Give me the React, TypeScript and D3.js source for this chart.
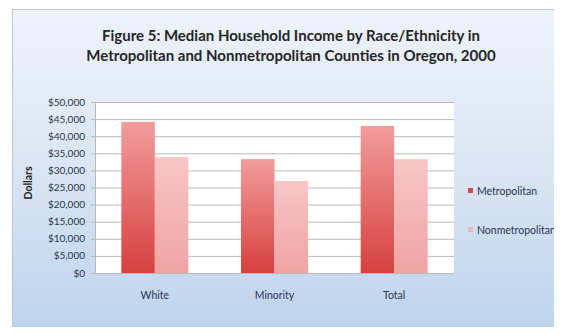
import React from "react";
import * as d3 from "d3";

const categories = ["White", "Minority", "Total"];
const seriesNames = ["Metropolitan", "Nonmetropolitan"];
const metropolitan = [44200, 33300, 43000];
const nonmetropolitan = [33900, 26900, 33300];
const yTicks = [0, 5000, 10000, 15000, 20000, 25000, 30000, 35000, 40000, 45000, 50000];
const titleLines = [
  "Figure 5: Median Household Income by Race/Ethnicity in",
  "Metropolitan and Nonmetropolitan Counties in Oregon, 2000",
];

const W = 562;
const H = 335;
const FONT = "Lato, 'Open Sans', sans-serif";

export default function App() {
  const plot = { left: 95, right: 454, top: 102, bottom: 273 };
  const x = d3.scaleBand<string>().domain(categories).range([plot.left, plot.right]).paddingInner(0.44).paddingOuter(0.22);
  const xs = d3.scaleBand<string>().domain(seriesNames).range([0, x.bandwidth()]);
  const y = d3.scaleLinear().domain([0, 50000]).range([plot.bottom, plot.top]);
  const fmt = (v: number) => "$" + d3.format(",")(v);
  const series = [metropolitan, nonmetropolitan];
  const fills = ["url(#gMetro)", "url(#gNon)"];
  const legendColors = ["#d84a4a", "#f5b0b0"];

  return (
    <div style={{ margin: -8, width: W, height: H, overflow: "hidden" }}>
      <svg width={W} height={H} style={{ display: "block" }} fontFamily={FONT}>
        <defs>
          <linearGradient id="bg" x1="0" y1="0" x2="0" y2="1">
            <stop offset="0" stopColor="#eef3fa" />
            <stop offset="0.5" stopColor="#d9e5f3" />
            <stop offset="1" stopColor="#bdd3ee" />
          </linearGradient>
          <linearGradient id="gMetro" x1="0" y1="0" x2="0" y2="1">
            <stop offset="0" stopColor="#f29c9c" />
            <stop offset="1" stopColor="#d6413f" />
          </linearGradient>
          <linearGradient id="gNon" x1="0" y1="0" x2="0" y2="1">
            <stop offset="0" stopColor="#f8c6c6" />
            <stop offset="1" stopColor="#efa3a3" />
          </linearGradient>
        </defs>
        <rect x={0} y={0} width={W} height={H} fill="#ffffff" />
        <rect x={12.5} y={9.5} width={W} height={322} fill="url(#bg)" stroke="#b9c7d8" strokeWidth={1} />
        {titleLines.map((t, i) => (
          <text key={i} x={291} y={41 + i * 20} textAnchor="middle" fontSize={15} fontWeight="bold" fill="#262626">
            {t}
          </text>
        ))}
        <rect x={plot.left} y={plot.top} width={plot.right - plot.left} height={plot.bottom - plot.top} fill="#ffffff" />
        {yTicks.map((t) => (
          <g key={t}>
            <line x1={plot.left - 4} x2={plot.right} y1={y(t) + 0.5} y2={y(t) + 0.5} stroke="#b8b8b8" strokeWidth={1} />
            <text x={85} y={y(t)} dy="0.35em" textAnchor="end" fontSize={10} fill="#2a3550">
              {fmt(t)}
            </text>
          </g>
        ))}
        <line x1={plot.left + 0.5} x2={plot.left + 0.5} y1={plot.top} y2={plot.bottom} stroke="#b8b8b8" />
        {categories.map((c, ci) => (
          <g key={c}>
            {series.map((s, si) => (
              <rect
                key={si}
                x={(x(c) as number) + (xs(seriesNames[si]) as number)}
                y={y(s[ci])}
                width={xs.bandwidth()}
                height={plot.bottom - y(s[ci])}
                fill={fills[si]}
              />
            ))}
            <text x={(x(c) as number) + x.bandwidth() / 2} y={295} dy="0.35em" textAnchor="middle" fontSize={10.5} fill="#2a3550">
              {c}
            </text>
          </g>
        ))}
        <text transform={`translate(32,183) rotate(-90)`} textAnchor="middle" fontSize={10.5} fontWeight="bold" fill="#262626">
          Dollars
        </text>
        {seriesNames.map((n, i) => (
          <g key={n}>
            <rect x={468} y={188 + i * 39} width={5} height={5} fill={legendColors[i]} />
            <text x={477} y={191 + i * 39} dy="0.35em" fontSize={10.5} fill="#2a3550">
              {n}
            </text>
          </g>
        ))}
      </svg>
    </div>
  );
}
